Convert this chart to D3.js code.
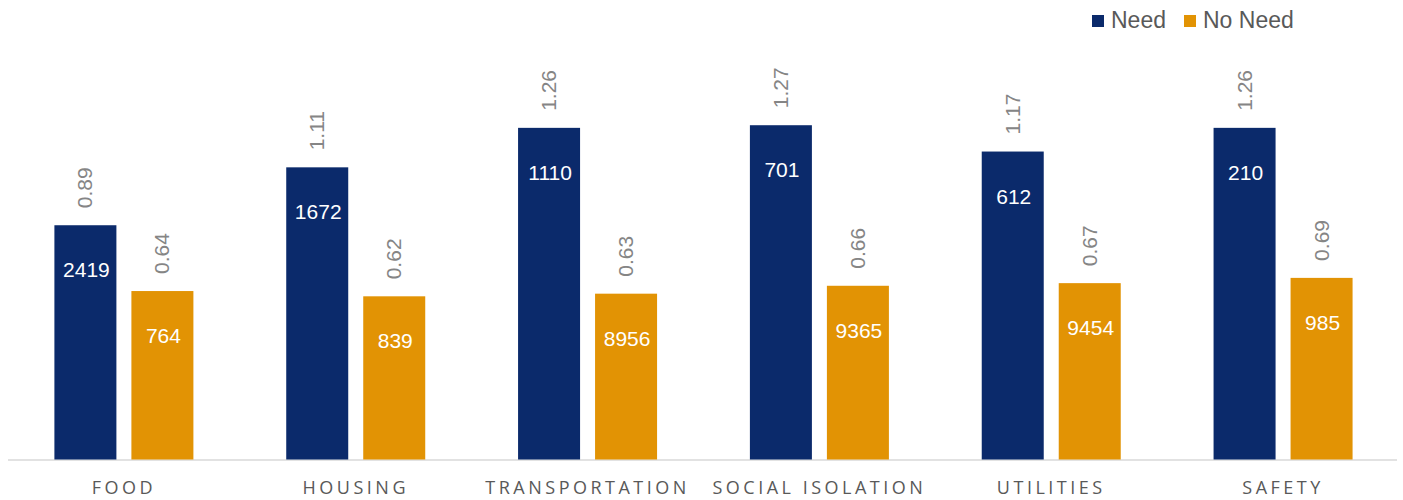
<!DOCTYPE html>
<html>
<head>
<meta charset="utf-8">
<script src="https://cdn.jsdelivr.net/npm/d3@7"></script>
<style>
  html, body { margin: 0; padding: 0; background: #fff; }
  svg { display: block; }
</style>
</head>
<body>
<div id="chart"></div>
<script>
"use strict";

// categories and series
var categories = ["FOOD", "HOUSING", "TRANSPORTATION", "SOCIAL ISOLATION", "UTILITIES", "SAFETY"];
var seriesNames = ["Need", "No Need"];
var needValues = [0.89, 1.11, 1.26, 1.27, 1.17, 1.26];
var noNeedValues = [0.64, 0.62, 0.63, 0.66, 0.67, 0.69];
// counts shown inside the bars
var needCounts = [2419, 1672, 1110, 701, 612, 210];
var noNeedCounts = [764, 839, 8956, 9365, 9454, 985];

var colors = ["#0b2a6b", "#e29304"];

var width = 1403, height = 500;
var plot = { left: 8, right: 1399, top: 91, bottom: 459.5 };

var svg = d3.select("#chart").append("svg")
  .attr("width", width)
  .attr("height", height);

var x = d3.scaleBand()
  .domain(categories)
  .range([plot.left, plot.right])
  .paddingInner(0)
  .paddingOuter(0);

// bar geometry within a band (62px bars, 15px gap)
var xSub = d3.scaleBand()
  .domain(seriesNames)
  .range([46.4, 46.4 + 139])
  .paddingInner(15 / 77)
  .paddingOuter(0);

var y = d3.scaleLinear()
  .domain([0, 1.4])
  .range([plot.bottom, plot.top]);

var rows = categories.map(function (c, i) {
  return {
    cat: c,
    bars: [
      { s: "Need", v: needValues[i], n: needCounts[i], color: colors[0] },
      { s: "No Need", v: noNeedValues[i], n: noNeedCounts[i], color: colors[1] }
    ]
  };
});

// axis line
svg.append("line")
  .attr("x1", plot.left)
  .attr("x2", plot.right - 2)
  .attr("y1", plot.bottom + 0.5)
  .attr("y2", plot.bottom + 0.5)
  .attr("stroke", "#d9d9d9")
  .attr("stroke-width", 1.5);

var groups = svg.selectAll("g.group")
  .data(rows)
  .enter()
  .append("g")
  .attr("class", "group")
  .attr("transform", function (d) { return "translate(" + x(d.cat) + ",0)"; });

var bars = groups.selectAll("g.bar")
  .data(function (d) { return d.bars; })
  .enter()
  .append("g")
  .attr("class", "bar");

bars.append("rect")
  .attr("x", function (d) { return xSub(d.s); })
  .attr("width", xSub.bandwidth())
  .attr("y", function (d) { return y(d.v); })
  .attr("height", function (d) { return plot.bottom - y(d.v); })
  .attr("fill", function (d) { return d.color; });

// rotated value labels above the bars
bars.append("text")
  .attr("transform", function (d) {
    var cx = xSub(d.s) + xSub.bandwidth() / 2;
    return "translate(" + (cx + 7) + "," + (y(d.v) - 17) + ") rotate(-90)";
  })
  .attr("text-anchor", "start")
  .attr("font-family", "'Liberation Sans', Arial, sans-serif")
  .attr("font-size", "21px")
  .attr("fill", "#858585")
  .text(function (d) { return d3.format(".2f")(d.v); });

// counts inside the bars
bars.append("text")
  .attr("x", function (d) { return xSub(d.s) + xSub.bandwidth() / 2 + 1; })
  .attr("y", function (d) { return y(d.v) + 46 + 6; })
  .attr("text-anchor", "middle")
  .attr("font-family", "'Liberation Sans', Arial, sans-serif")
  .attr("font-size", "21px")
  .attr("fill", "#ffffff")
  .text(function (d) { return d.n; });

// category labels
svg.selectAll("text.cat")
  .data(categories)
  .enter()
  .append("text")
  .attr("class", "cat")
  .attr("x", function (d) { return x(d) + x.bandwidth() / 2; })
  .attr("y", 494)
  .attr("text-anchor", "middle")
  .attr("font-family", "'Open Sans', sans-serif")
  .attr("font-size", "18px")
  .attr("letter-spacing", "3.5px")
  .attr("fill", "#595959")
  .text(function (d) { return d; });

// legend
var legendX = [1092, 1184];
var legend = svg.selectAll("g.legend")
  .data(seriesNames)
  .enter()
  .append("g")
  .attr("class", "legend")
  .attr("transform", function (d, i) { return "translate(" + legendX[i] + ",0)"; });

legend.append("rect")
  .attr("x", 0)
  .attr("y", 15)
  .attr("width", 12)
  .attr("height", 12)
  .attr("fill", function (d, i) { return colors[i]; });

legend.append("text")
  .attr("x", 19)
  .attr("y", 27.5)
  .attr("font-family", "'Liberation Sans', Arial, sans-serif")
  .attr("font-size", "23px")
  .attr("fill", "#595959")
  .text(function (d) { return d; });
</script>
</body>
</html>
